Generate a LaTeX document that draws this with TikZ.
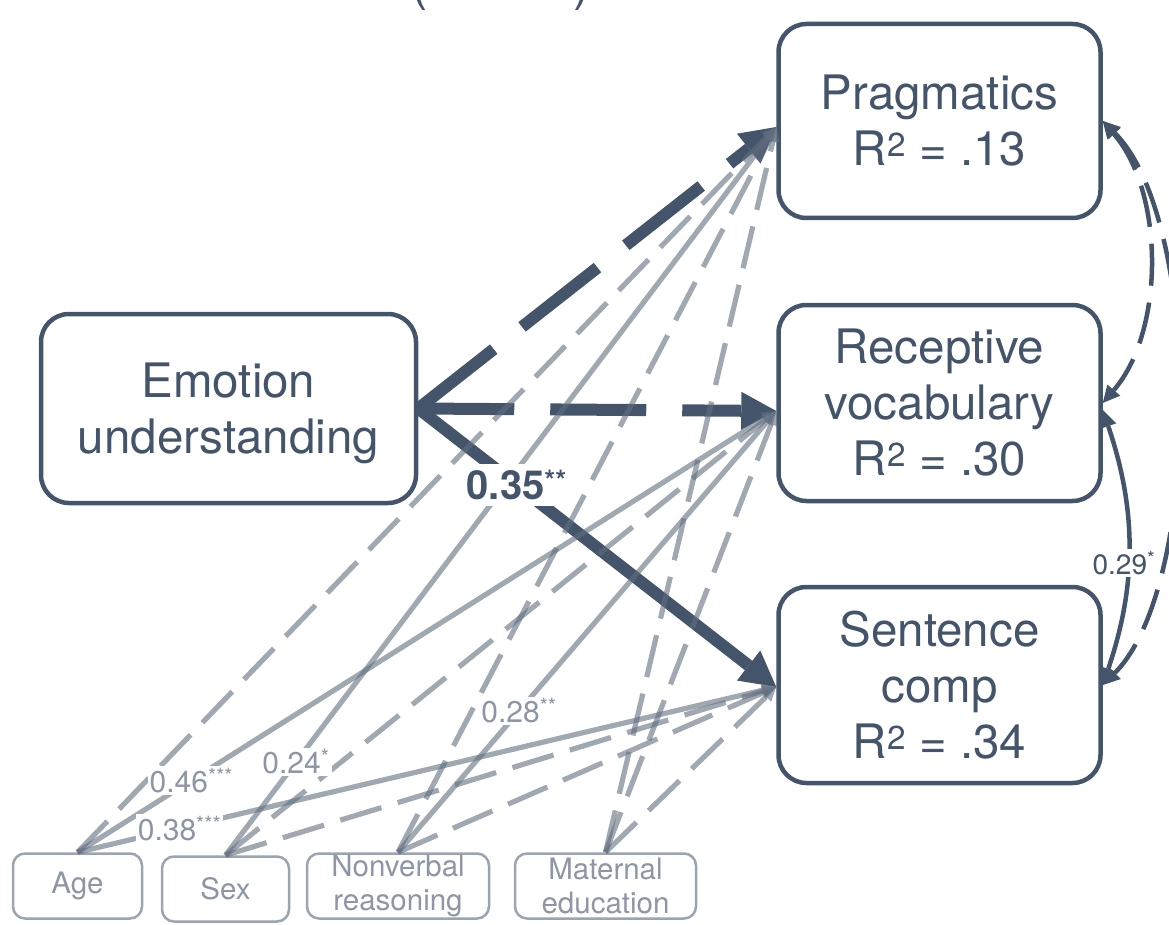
\documentclass[tikz,border=0pt]{standalone}
\usepackage{fontspec}
\setmainfont{TeX Gyre Heros}
\usetikzlibrary{arrows.meta}
\definecolor{slate}{RGB}{68,84,106}
\definecolor{covline}{RGB}{97,110,127}
\definecolor{covtext}{RGB}{140,150,164}
\definecolor{covborder}{RGB}{155,164,177}
\begin{document}
\begin{tikzpicture}[x=1pt,y=-1pt,
  bigbox/.style={draw=slate, line width=4.5pt, rounded corners=28pt, text=slate, align=center,
    font=\fontsize{47.5}{56}\selectfont, inner sep=0pt, minimum width=322pt, minimum height=194pt},
  smallbox/.style={draw=covborder, line width=2.5pt, rounded corners=12pt, text=covtext, align=center,
    font=\fontsize{29.5}{34}\selectfont, inner sep=0pt, minimum height=65pt},
  mainsolid/.style={draw=slate, line width=12pt, -{Triangle[length=35pt,width=38pt,line width=0pt]}},
  maindash/.style={mainsolid, dash pattern=on 96pt off 36pt},
  cov/.style={draw=covline, opacity=0.6, line width=5.2pt, -{Triangle[length=14pt,width=14pt,line width=0pt]}},
  covdash/.style={cov, dash pattern=on 43pt off 17pt},
  covlabel/.style={fill=white, text=covtext, font=\fontsize{30}{32}\selectfont, inner sep=2pt},
  arcline/.style={draw=slate, line width=4.5pt,
    {Triangle[length=17pt,width=17pt,line width=0pt]}-{Triangle[length=17pt,width=17pt,line width=0pt]}},
  arcdash/.style={arcline, dash pattern=on 42pt off 17pt}
]
\path[use as bounding box] (0,0) rectangle (1169,925);
\begin{scope}
\clip (0,0) rectangle (1169,925);

% partially visible title
\node[anchor=base, text=slate, font=\fontsize{52}{60}\selectfont, inner sep=0pt] (ttlL) at (419,0) {(};
\node[anchor=base, text=slate, font=\fontsize{52}{60}\selectfont, inner sep=0pt] (ttlR) at (582,0) {)};

% main boxes
\node[bigbox, minimum width=375pt, minimum height=189pt, text depth=0pt] (emo) at (228.5,408.5) {Emotion\\understanding};
\node[bigbox] (prag) at (939.5,121) {Pragmatics\\R\textsuperscript{2} = .13};
\node[bigbox, minimum height=196pt] (rec) at (939.5,403) {Receptive\\vocabulary\\R\textsuperscript{2} = .30};
\node[bigbox, minimum height=196pt] (sent) at (939.5,685) {Sentence\\comp\\R\textsuperscript{2} = .34};

% covariate boxes
\node[smallbox, minimum width=129pt] (age) at (77.5,886) {Age};
\node[smallbox, minimum width=127pt] (sex) at (225.5,889) {Sex};
\node[smallbox, minimum width=182pt] (nvr) at (398,886) {Nonverbal\\reasoning};
\node[smallbox, minimum width=181pt] (mat) at (605.5,886) {Maternal\\education};

\coordinate (pragW) at ([yshift=-6pt]prag.west);
\coordinate (recW) at ([yshift=-8pt]rec.west);
\coordinate (sentW) at ([yshift=-2pt]sent.west);
\coordinate (recE2) at ([yshift=-7pt]rec.east);

% main paths
\draw[maindash] (emo.east) -- (pragW);
\draw[maindash] (emo.east) -- (recW);
\draw[mainsolid] (emo.east) -- (sentW);

% covariate paths
\draw[covdash] (age.north) -- (pragW);
\draw[cov] (age.north) -- (recW);
\draw[cov] (age.north) -- (sentW);
\draw[cov] (sex.north) -- (pragW);
\draw[covdash] (sex.north) -- (recW);
\draw[covdash] (sex.north) -- (sentW);
\draw[covdash] (nvr.north) -- (pragW);
\draw[cov] (nvr.north) -- (recW);
\draw[covdash] (nvr.north) -- (sentW);
\draw[covdash] (mat.north) -- (pragW);
\draw[covdash] (mat.north) -- (recW);
\draw[covdash] (mat.north) -- (sentW);

% residual covariances
\draw[arcdash] (prag.east) .. controls +(62,72) and +(62,-72) .. (rec.east);
\draw[arcdash] (prag.east) .. controls +(100,100) and +(100,-100) .. (sent.east);
\draw[arcline] (recE2) .. controls +(34,100) and +(34,-100) .. (sent.east)
  node[pos=0.56, xshift=-4pt, fill=white, text=slate, font=\fontsize{28}{30}\selectfont, inner sep=2pt] (l29) {0.29\textsuperscript{*}};

% labels
\path (age.north) -- (recW) node[pos=0.163, covlabel] (l46) {0.46\textsuperscript{***}};
\path (age.north) -- (sentW) node[pos=0.146, covlabel] (l38) {0.38\textsuperscript{***}};
\path (sex.north) -- (pragW) node[pos=0.128, covlabel] (l24) {0.24\textsuperscript{*}};
\path (nvr.north) -- (recW) node[pos=0.32, covlabel] (l28) {0.28\textsuperscript{**}};
\path (emo.east) -- (sentW) node[pos=0.275, fill=white, text=slate, inner sep=6pt,
  font=\bfseries\fontsize{40}{44}\selectfont] (l35) {0.35\textsuperscript{**}};
\end{scope}
\end{tikzpicture}
\end{document}
